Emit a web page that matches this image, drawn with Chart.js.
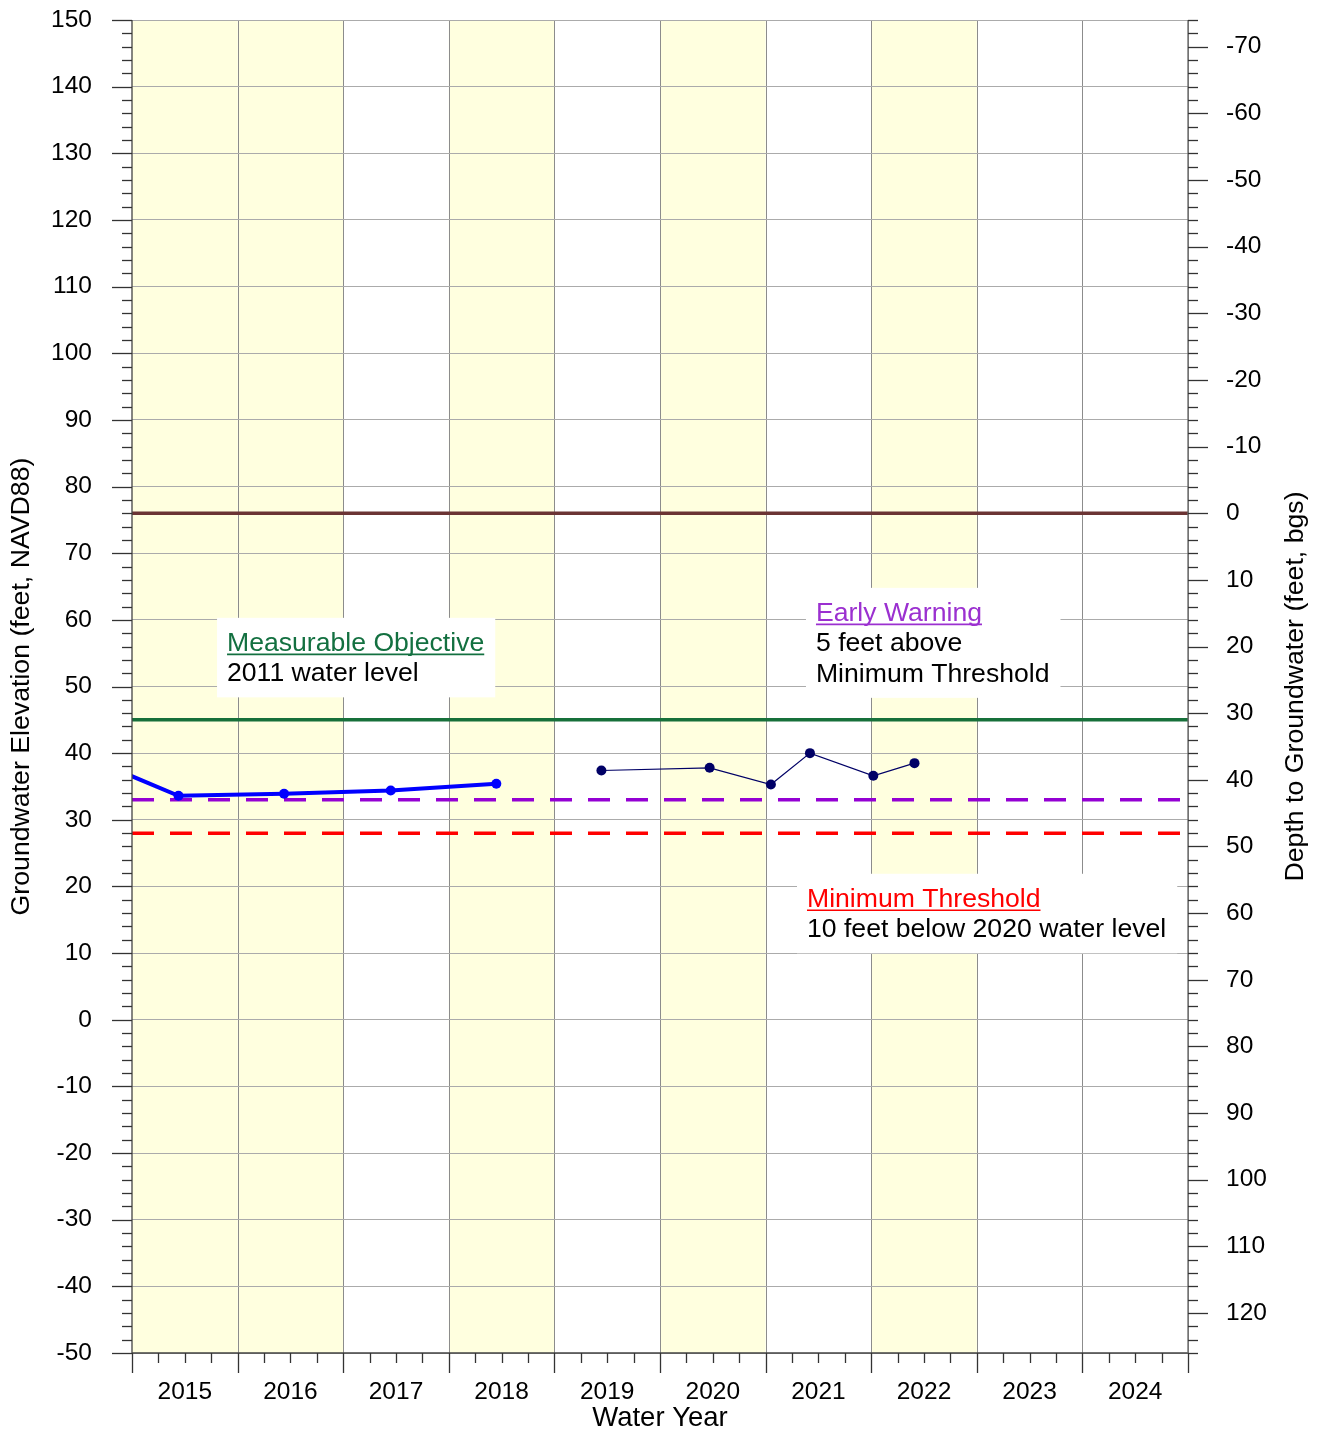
<!DOCTYPE html>
<html>
<head>
<meta charset="utf-8">
<script src="https://cdn.jsdelivr.net/npm/chart.js@4.4.1/dist/chart.umd.min.js"></script>
<style>
  html, body { margin: 0; padding: 0; background: #fff; }
</style>
</head>
<body>
<canvas id="chart" width="1321" height="1435"></canvas>
<script>
// water years shown on the x axis, label sits in the middle of each year
const years = [2015, 2016, 2017, 2018, 2019, 2020, 2021, 2022, 2023, 2024];
const shadedYears = [2015, 2016, 2018, 2020, 2022];
const elevationTicks = [-50, -40, -30, -20, -10, 0, 10, 20, 30, 40, 50, 60, 70, 80, 90, 100, 110, 120, 130, 140, 150];
const depthTicks = [-70, -60, -50, -40, -30, -20, -10, 0, 10, 20, 30, 40, 50, 60, 70, 80, 90, 100, 110, 120];

// measured groundwater elevations (feet, NAVD88)
const historicDates = [2013.95, 2014.94, 2015.94, 2016.95, 2017.95];
const historicLevels = [40.2, 33.6, 33.9, 34.4, 35.4];
const recentDates = [2018.945, 2019.97, 2020.55, 2020.92, 2021.52, 2021.91];
const recentLevels = [37.4, 37.8, 35.3, 40.0, 36.6, 38.5];

// reference levels
const groundSurface = 76;
const measurableObjective = 45;
const earlyWarning = 33;
const minimumThreshold = 28;

const FONT = "'Liberation Sans', Arial, sans-serif";
Chart.defaults.font.family = FONT;
Chart.defaults.color = "#000";

const xMin = 2014.5, xMax = 2024.5;
const yMin = -50, yMax = 150;

const toPoints = (xs, ys) => xs.map((x, i) => ({ x: x, y: ys[i] }));
const flat = (level) => [{ x: xMin, y: level }, { x: xMax, y: level }];

const notes = [
  { x: 2015.40, y: 55.35, lines: [
      { text: "Measurable Objective", color: "#137040", underline: true },
      { text: "2011 water level", color: "#000" } ] },
  { x: 2020.977, y: 59.85, lines: [
      { text: "Early Warning", color: "#9b30d0", underline: true },
      { text: "5 feet above", color: "#000" },
      { text: "Minimum Threshold", color: "#000" } ] },
  { x: 2020.892, y: 16.95, lines: [
      { text: "Minimum Threshold", color: "#ff0000", underline: true },
      { text: "10 feet below 2020 water level", color: "#000" } ] },
];

const framePlugin = {
  id: "frame",
  beforeDraw(chart) {
    const { ctx, chartArea: a, scales } = chart;
    const x = scales.x;
    ctx.save();
    ctx.fillStyle = "#fff";
    ctx.fillRect(0, 0, chart.width, chart.height);
    ctx.fillStyle = "#ffffdf";
    shadedYears.forEach((yr) => {
      const x0 = x.getPixelForValue(yr - 0.5);
      const x1 = x.getPixelForValue(yr + 0.5);
      ctx.fillRect(x0, a.top, x1 - x0, a.bottom - a.top);
    });
    ctx.strokeStyle = "#8c8c8c";
    ctx.lineWidth = 1;
    years.forEach((yr) => {
      const px = Math.round(x.getPixelForValue(yr + 0.5)) + 0.5;
      ctx.beginPath();
      ctx.moveTo(px, a.top);
      ctx.lineTo(px, a.bottom);
      ctx.stroke();
    });
    ctx.restore();
  },
  beforeDatasetsDraw(chart) {
    const { ctx, scales } = chart;
    ctx.save();
    ctx.font = "26.6px " + FONT;
    ctx.textBaseline = "alphabetic";
    notes.forEach((n) => {
      const tx = scales.x.getPixelForValue(n.x);
      const ty = scales.y.getPixelForValue(n.y);
      const w = Math.max(...n.lines.map((l) => ctx.measureText(l.text).width));
      const lastBase = ty + (n.lines.length - 1) * 30.5;
      ctx.fillStyle = "#fff";
      ctx.fillRect(tx - 10, ty - 33, w + 21, lastBase + 16 - (ty - 33));
      n.lines.forEach((l, i) => {
        const by = ty + i * 30.5;
        ctx.fillStyle = l.color;
        ctx.fillText(l.text, tx, by);
        if (l.underline) {
          ctx.strokeStyle = l.color;
          ctx.lineWidth = 1.6;
          ctx.beginPath();
          ctx.moveTo(tx, by + 3.5);
          ctx.lineTo(tx + ctx.measureText(l.text).width, by + 3.5);
          ctx.stroke();
        }
      });
    });
    ctx.restore();
  },
  afterDraw(chart) {
    const { ctx, chartArea: a, scales } = chart;
    const { x, y, y2 } = scales;
    ctx.save();
    ctx.lineWidth = 1.3;
    // axis lines
    ctx.strokeStyle = "#444";
    ctx.beginPath();
    ctx.moveTo(a.left, a.top); ctx.lineTo(a.left, a.bottom); ctx.lineTo(a.right, a.bottom);
    ctx.stroke();
    ctx.strokeStyle = "#666";
    ctx.beginPath();
    ctx.moveTo(a.right, a.top); ctx.lineTo(a.right, a.bottom);
    ctx.stroke();
    ctx.strokeStyle = "#333";
    // left ticks every 2 ft
    for (let i = 0; i <= (yMax - yMin) / 2; i++) {
      const v = yMin + i * 2;
      const len = v % 10 === 0 ? 20 : 10;
      const py = Math.round(y.getPixelForValue(v)) + 0.5;
      ctx.beginPath(); ctx.moveTo(a.left - len, py); ctx.lineTo(a.left, py); ctx.stroke();
    }
    // right ticks every 2 ft depth
    for (let i = 0; i <= (y2.max - y2.min) / 2; i++) {
      const v = y2.min + i * 2;
      const len = v % 10 === 0 ? 20 : 10;
      const py = Math.round(y2.getPixelForValue(v)) + 0.5;
      ctx.beginPath(); ctx.moveTo(a.right, py); ctx.lineTo(a.right + len, py); ctx.stroke();
    }
    // bottom ticks every quarter year
    for (let i = 0; i <= (xMax - xMin) * 4; i++) {
      const v = xMin + i / 4;
      const len = i % 4 === 0 ? 20 : 10;
      const px = Math.round(x.getPixelForValue(v)) + 0.5;
      ctx.beginPath(); ctx.moveTo(px, a.bottom); ctx.lineTo(px, a.bottom + len); ctx.stroke();
    }
    // rotated axis titles
    ctx.fillStyle = "#000";
    ctx.font = "26.7px " + FONT;
    ctx.textAlign = "center";
    ctx.textBaseline = "middle";
    const cy = (a.top + a.bottom) / 2;
    [[22, "Groundwater Elevation (feet, NAVD88)"], [1296, "Depth to Groundwater (feet, bgs)"]].forEach(([tx, t]) => {
      ctx.save();
      ctx.translate(tx, cy);
      ctx.rotate(-Math.PI / 2);
      ctx.fillText(t, 0, 0);
      ctx.restore();
    });
    ctx.restore();
  },
};

const noOverhang = (s, width) => {
  s.width = width;
  s.paddingTop = 0;
  s.paddingBottom = 0;
};

new Chart(document.getElementById("chart"), {
  type: "line",
  data: {
    datasets: [
      {
        data: toPoints(historicDates, historicLevels),
        borderColor: "#0000ff",
        backgroundColor: "#0000ff",
        borderWidth: 4,
        pointRadius: 5,
        pointBorderWidth: 0,
      },
      {
        data: toPoints(recentDates, recentLevels),
        borderColor: "#000066",
        backgroundColor: "#000066",
        borderWidth: 1.2,
        pointRadius: 5,
        pointBorderWidth: 0,
      },
      { data: flat(earlyWarning), borderColor: "#9400d3", borderWidth: 3.5, borderDash: [22, 16], pointRadius: 0 },
      { data: flat(minimumThreshold), borderColor: "#ff0000", borderWidth: 3.5, borderDash: [22, 16], pointRadius: 0 },
      { data: flat(measurableObjective), borderColor: "#17703a", borderWidth: 3.5, pointRadius: 0 },
      { data: flat(groundSurface), borderColor: "#6b3434", borderWidth: 3.5, pointRadius: 0 },
    ],
  },
  options: {
    responsive: false,
    animation: false,
    layout: { padding: { top: 20, left: 0, right: 0, bottom: 0 } },
    plugins: { legend: { display: false }, tooltip: { enabled: false } },
    elements: { line: { tension: 0 } },
    scales: {
      x: {
        type: "linear",
        position: "bottom",
        min: xMin,
        max: xMax,
        afterBuildTicks: (s) => { s.ticks = years.map((v) => ({ value: v })); },
        afterFit: (s) => { s.height = 82; s.paddingLeft = 0; s.paddingRight = 0; },
        grid: { display: false, drawTicks: false },
        border: { display: false },
        ticks: { font: { size: 24.5 }, padding: 25, autoSkip: false, maxRotation: 0, callback: (v) => String(v) },
        title: { display: true, text: "Water Year", font: { size: 27.5 }, padding: { top: 0, bottom: 0 } },
      },
      y: {
        type: "linear",
        position: "left",
        min: yMin,
        max: yMax,
        afterBuildTicks: (s) => { s.ticks = elevationTicks.map((v) => ({ value: v })); },
        afterFit: (s) => noOverhang(s, 132),
        grid: { color: "#ababab", lineWidth: 1, drawTicks: false },
        border: { display: false },
        ticks: { font: { size: 24.5 }, padding: 40 },
      },
      y2: {
        type: "linear",
        position: "right",
        reverse: true,
        min: groundSurface - yMax,
        max: groundSurface - yMin,
        afterBuildTicks: (s) => { s.ticks = depthTicks.map((v) => ({ value: v })); },
        afterFit: (s) => noOverhang(s, 133),
        grid: { display: false, drawTicks: false },
        border: { display: false },
        ticks: { font: { size: 24.5 }, padding: 38 },
      },
    },
  },
  plugins: [framePlugin],
});
</script>
</body>
</html>
